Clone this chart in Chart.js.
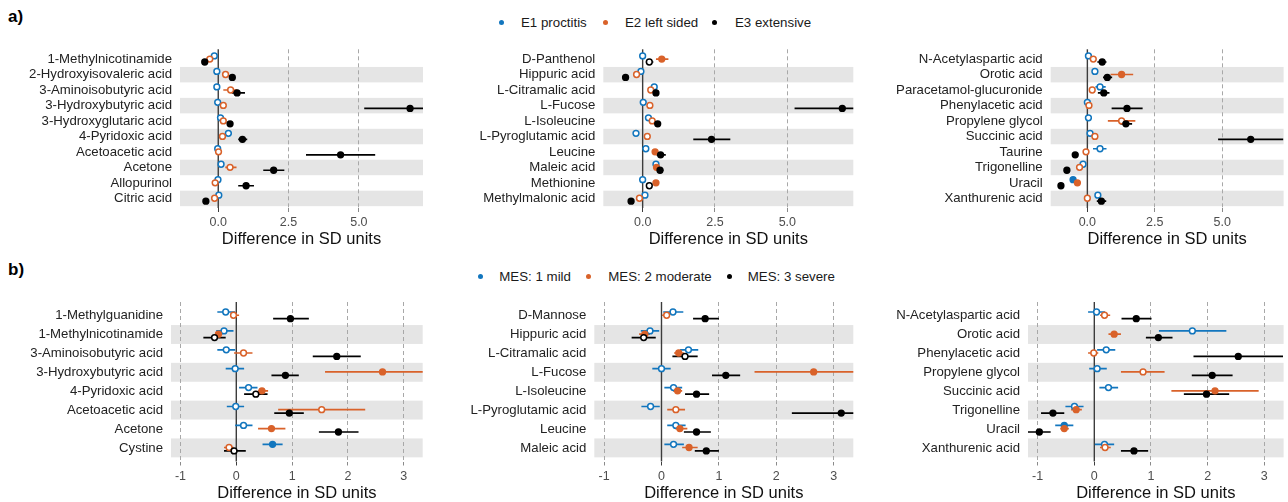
<!DOCTYPE html>
<html><head><meta charset="utf-8">
<script src="https://cdn.jsdelivr.net/npm/chart.js@4.4.1/dist/chart.umd.min.js"></script>
<style>
html,body{margin:0;padding:0;background:#fff;}
body{width:1288px;height:502px;position:relative;overflow:hidden;font-family:'Liberation Sans',Arial,Helvetica,sans-serif;}
canvas{position:absolute;}
.tag{position:absolute;font-weight:bold;font-size:17px;color:#000;line-height:20px;}
.leg{position:absolute;font-size:13.3px;color:#1a1a1a;line-height:16px;height:16px;white-space:nowrap;}
.dot{position:absolute;width:5px;height:5px;border-radius:50%;}
</style></head><body>
<div class="tag" style="left:8px;top:7px">a)</div>
<div class="tag" style="left:8px;top:260px">b)</div>
<canvas id="a1" width="430" height="210" style="left:0px;top:40px"></canvas>
<canvas id="a2" width="430" height="210" style="left:430px;top:40px"></canvas>
<canvas id="a3" width="430" height="210" style="left:858px;top:40px"></canvas>
<canvas id="b1" width="430" height="212" style="left:0px;top:290px"></canvas>
<canvas id="b2" width="430" height="212" style="left:430px;top:290px"></canvas>
<canvas id="b3" width="430" height="212" style="left:858px;top:290px"></canvas>
<script>
// ---------- DATA ----------
const legendA = ['E1 proctitis', 'E2 left sided', 'E3 extensive'];
const legendB = ['MES: 1 mild', 'MES: 2 moderate', 'MES: 3 severe'];
const xTicksA = [0, 2.5, 5.0];
const xTicksB = [-1, 0, 1, 2, 3];
const xTitle = 'Difference in SD units';

// each row: [estimate, lower, upper, significant(1 = filled)]
const a1Cats = ['1-Methylnicotinamide','2-Hydroxyisovaleric acid','3-Aminoisobutyric acid','3-Hydroxybutyric acid','3-Hydroxyglutaric acid','4-Pyridoxic acid','Acetoacetic acid','Acetone','Allopurinol','Citric acid'];
const a1E1 = [[-0.14,-0.24,-0.04,0],[-0.05,-0.15,0.05,0],[-0.05,-0.15,0.05,0],[-0.02,-0.12,0.08,0],[0.08,-0.02,0.18,0],[0.36,0.24,0.48,0],[-0.02,-0.12,0.08,0],[0.10,0.0,0.20,0],[-0.01,-0.11,0.09,0],[0.02,-0.08,0.12,0]];
const a1E2 = [[-0.30,-0.40,-0.20,0],[0.26,0.16,0.36,0],[0.44,0.18,0.68,0],[0.18,0.08,0.28,0],[0.18,0.08,0.28,0],[0.15,0.05,0.25,0],[0.01,-0.09,0.11,0],[0.42,0.25,0.65,0],[-0.11,-0.21,-0.01,0],[-0.13,-0.23,-0.03,0]];
const a1E3 = [[-0.48,-0.58,-0.38,1],[0.50,0.40,0.60,1],[0.67,0.48,0.95,1],[6.82,5.19,8.45,1],[0.42,0.32,0.52,1],[0.86,0.71,1.03,1],[4.35,3.12,5.58,1],[1.97,1.60,2.35,1],[0.99,0.71,1.27,1],[-0.44,-0.54,-0.34,1]];

const a2Cats = ['D-Panthenol','Hippuric acid','L-Citramalic acid','L-Fucose','L-Isoleucine','L-Pyroglutamic acid','Leucine','Maleic acid','Methionine','Methylmalonic acid'];
const a2E1 = [[0.00,-0.1,0.1,0],[-0.06,-0.16,0.04,0],[0.40,0.30,0.50,0],[0.02,-0.08,0.12,0],[0.20,0.10,0.30,0],[-0.23,-0.33,-0.13,0],[0.11,0.01,0.21,0],[0.46,0.36,0.56,0],[0.00,-0.1,0.1,0],[0.08,-0.02,0.18,0]];
const a2E2 = [[0.66,0.46,0.89,1],[-0.21,-0.31,-0.11,0],[0.28,0.18,0.38,0],[0.25,0.15,0.35,0],[0.33,0.23,0.43,0],[0.16,0.06,0.26,0],[0.43,0.33,0.53,1],[0.48,0.38,0.58,1],[0.46,0.36,0.56,1],[-0.11,-0.21,-0.01,0]];
const a2E3 = [[0.23,0.11,0.37,0],[-0.59,-0.69,-0.49,1],[0.46,0.36,0.56,1],[6.90,5.25,8.55,1],[0.52,0.42,0.62,1],[2.38,1.75,3.03,1],[0.62,0.48,0.80,1],[0.60,0.48,0.72,1],[0.23,0.13,0.33,0],[-0.40,-0.50,-0.30,1]];

const a3Cats = ['N-Acetylaspartic acid','Orotic acid','Paracetamol-glucuronide','Phenylacetic acid','Propylene glycol','Succinic acid','Taurine','Trigonelline','Uracil','Xanthurenic acid'];
const a3E1 = [[0.04,-0.06,0.14,0],[0.28,0.18,0.38,0],[0.47,0.30,0.68,0],[0.00,-0.1,0.1,0],[0.04,-0.06,0.14,0],[0.10,0.0,0.20,0],[0.47,0.21,0.71,0],[-0.16,-0.26,-0.06,0],[-0.53,-0.63,-0.43,1],[0.39,0.29,0.49,0]];
const a3E2 = [[0.22,0.12,0.32,0],[1.27,0.86,1.70,1],[0.18,0.08,0.28,0],[0.06,-0.04,0.16,0],[1.27,0.76,1.78,0],[0.28,0.18,0.38,0],[-0.05,-0.15,0.05,0],[-0.29,-0.39,-0.19,0],[-0.37,-0.47,-0.27,1],[0.00,-0.1,0.1,0]];
const a3E3 = [[0.55,0.37,0.71,1],[0.74,0.58,0.92,1],[0.61,0.39,0.82,1],[1.47,0.90,2.05,1],[1.43,1.23,1.66,1],[6.06,4.85,7.27,1],[-0.45,-0.55,-0.35,1],[-0.76,-0.86,-0.66,1],[-0.98,-1.08,-0.88,1],[0.52,0.35,0.70,1]];

const b1Cats = ['1-Methylguanidine','1-Methylnicotinamide','3-Aminoisobutyric acid','3-Hydroxybutyric acid','4-Pyridoxic acid','Acetoacetic acid','Acetone','Cystine'];
const b1M1 = [[-0.19,-0.34,-0.02,0],[-0.22,-0.36,-0.05,0],[-0.18,-0.34,-0.02,0],[-0.02,-0.19,0.14,0],[0.22,0.05,0.38,0],[-0.01,-0.17,0.14,0],[0.13,-0.02,0.29,0],[0.65,0.47,0.83,1]];
const b1M2 = [[-0.05,-0.11,0.05,0],[-0.32,-0.38,-0.25,1],[0.13,-0.04,0.29,0],[2.62,1.59,3.65,1],[0.46,0.39,0.57,1],[1.53,0.75,2.31,0],[0.63,0.39,0.88,1],[-0.13,-0.22,-0.05,0]];
const b1M3 = [[0.97,0.66,1.30,1],[-0.39,-0.59,-0.19,0],[1.80,1.37,2.23,1],[0.88,0.63,1.12,1],[0.35,0.14,0.56,0],[0.95,0.68,1.21,1],[1.83,1.48,2.19,1],[-0.04,-0.22,0.17,0]];

const b2Cats = ['D-Mannose','Hippuric acid','L-Citramalic acid','L-Fucose','L-Isoleucine','L-Pyroglutamic acid','Leucine','Maleic acid'];
const b2M1 = [[0.20,0.03,0.38,0],[-0.20,-0.36,-0.04,0],[0.47,0.32,0.64,0],[0.00,-0.16,0.16,0],[0.21,0.05,0.36,0],[-0.19,-0.35,-0.03,0],[0.25,0.10,0.42,0],[0.21,0.05,0.39,0]];
const b2M2 = [[0.09,0.01,0.14,0],[-0.29,-0.39,-0.20,1],[0.30,0.22,0.39,1],[2.65,1.62,3.68,1],[0.28,0.20,0.36,1],[0.25,0.10,0.41,0],[0.32,0.24,0.45,1],[0.48,0.36,0.63,1]];
const b2M3 = [[0.76,0.55,1.00,1],[-0.31,-0.52,-0.10,0],[0.41,0.19,0.63,0],[1.12,0.88,1.37,1],[0.61,0.41,0.83,1],[3.13,2.27,3.99,1],[0.61,0.39,0.86,1],[0.78,0.58,1.00,1]];

const b3Cats = ['N-Acetylaspartic acid','Orotic acid','Phenylacetic acid','Propylene glycol','Succinic acid','Trigonelline','Uracil','Xanthurenic acid'];
const b3M1 = [[0.04,-0.11,0.19,0],[1.73,1.14,2.33,0],[0.21,0.05,0.37,0],[0.05,-0.09,0.22,0],[0.25,0.09,0.42,0],[-0.35,-0.51,-0.19,0],[-0.53,-0.69,-0.37,1],[0.18,0.01,0.35,0]];
const b3M2 = [[0.18,0.10,0.28,0],[0.35,0.25,0.47,1],[-0.01,-0.11,0.07,0],[0.86,0.47,1.24,0],[2.13,1.36,2.90,1],[-0.32,-0.41,-0.22,1],[-0.53,-0.60,-0.45,1],[0.19,0.10,0.29,0]];
const b3M3 = [[0.74,0.48,1.01,1],[1.13,0.91,1.38,1],[2.54,1.75,3.33,1],[2.08,1.72,2.44,1],[1.98,1.58,2.38,1],[-0.73,-0.94,-0.53,1],[-0.97,-1.17,-0.77,1],[0.70,0.47,0.95,1]];

// ---------- STYLE / LAYOUT ----------
const COLORS = ['#1276BE', '#D9622A', '#000000'];
const FONT = "'Liberation Sans', Arial, Helvetica, sans-serif";
const ROWS = {
  a: {xmin: -1.36, xmax: 7.28, ticks: xTicksA, dec: 1, ymin: -0.64, yext: 0.62, pt: 9.3, xh: 42, tpb: 2.75, dodge: [-0.21, -0.01, 0.18]},
  b: {xmin: -1.17, xmax: 3.34, ticks: xTicksB, dec: 0, ymin: -0.72, yext: 0.72, pt: 12, xh: 40.5, tpb: 0.45, dodge: [-0.19, -0.02, 0.16]}
};
const PANELS = [
  {id: 'a1', cats: a1Cats, series: [a1E1, a1E2, a1E3], row: 'a', yw: 180, pr: 7},
  {id: 'a2', cats: a2Cats, series: [a2E1, a2E2, a2E3], row: 'a', yw: 173.3, pr: 6.7},
  {id: 'a3', cats: a3Cats, series: [a3E1, a3E2, a3E3], row: 'a', yw: 192.7, pr: 3.3},
  {id: 'b1', cats: b1Cats, series: [b1M1, b1M2, b1M3], row: 'b', yw: 171, pr: 7.3},
  {id: 'b2', cats: b2Cats, series: [b2M1, b2M2, b2M3], row: 'b', yw: 164.3, pr: 6.7},
  {id: 'b3', cats: b3Cats, series: [b3M1, b3M2, b3M3], row: 'b', yw: 170, pr: 3.3}
];

// ---------- LEGENDS (HTML text) ----------
function legend(names, dotX, textX, cy) {
  names.forEach((n, k) => {
    const d = document.createElement('div');
    d.className = 'dot';
    d.style.left = (dotX[k] - 2.5) + 'px'; d.style.top = (cy - 2.5) + 'px';
    d.style.background = COLORS[k];
    document.body.appendChild(d);
    const t = document.createElement('div');
    t.className = 'leg';
    t.style.left = textX[k] + 'px'; t.style.top = (cy - 8) + 'px';
    t.textContent = n;
    document.body.appendChild(t);
  });
}
legend(legendA, [501.7, 605.7, 714], [521, 625, 735], 22.7);
legend(legendB, [480, 588.3, 729], [499.3, 608.3, 747.7], 276.7);

// ---------- PLUGINS ----------
const bandsPlugin = {
  id: 'bands',
  beforeDraw(chart, args, opts) {
    const {ctx, chartArea: a, scales: {y}} = chart;
    ctx.save();
    ctx.fillStyle = '#e5e5e5';
    for (let i = 1; i < opts.n; i += 2) {
      const t = y.getPixelForValue(i - 0.5), b = y.getPixelForValue(i + 0.5);
      ctx.fillRect(a.left, t, a.right - a.left, b - t);
    }
    ctx.restore();
  },
  beforeDatasetsDraw(chart) {
    const {ctx, chartArea: a, scales: {x}} = chart;
    const px = x.getPixelForValue(0);
    ctx.save();
    ctx.strokeStyle = '#3c3c3c';
    ctx.lineWidth = 1.4;
    ctx.beginPath(); ctx.moveTo(px, a.top); ctx.lineTo(px, a.bottom); ctx.stroke();
    ctx.restore();
  }
};

// ---------- CHARTS ----------
PANELS.forEach(p => {
  const R = ROWS[p.row];
  const datasets = [];
  p.series.forEach((s, k) => {
    const off = R.dodge[k];
    const eb = [];
    s.forEach((r, i) => { eb.push({x: r[1], y: i + off}, {x: r[2], y: i + off}, {x: null, y: null}); });
    datasets.push({
      data: eb, showLine: true, spanGaps: false, borderColor: COLORS[k], borderWidth: 1.7,
      pointRadius: 0, pointHoverRadius: 0, order: 10 + k, borderCapStyle: 'butt'
    });
    datasets.push({
      data: s.map((r, i) => ({x: r[0], y: i + off})),
      showLine: false, pointRadius: 2.9, pointHoverRadius: 2.9, pointBorderWidth: 1.5,
      pointBorderColor: COLORS[k],
      pointBackgroundColor: s.map(r => r[3] ? COLORS[k] : '#ffffff'),
      order: 3 - k
    });
  });
  new Chart(document.getElementById(p.id), {
    type: 'scatter',
    data: {datasets},
    plugins: [bandsPlugin],
    options: {
      responsive: false, animation: false, devicePixelRatio: 1,
      layout: {padding: {left: 0, right: p.pr, top: R.pt, bottom: 0}},
      plugins: {legend: {display: false}, tooltip: {enabled: false}, bands: {n: p.cats.length}},
      scales: {
        x: {
          type: 'linear', min: R.xmin, max: R.xmax,
          afterBuildTicks: sc => { sc.ticks = R.ticks.map(v => ({value: v})); },
          afterFit: sc => { sc.height = R.xh; sc.paddingLeft = 0; sc.paddingRight = 0; sc.paddingTop = 0; sc.paddingBottom = 0; },
          ticks: {
            callback: v => R.dec ? Number(v).toFixed(R.dec) : String(v),
            font: {family: FONT, size: 12.5}, color: '#4d4d4d', padding: 3.5,
            maxRotation: 0, autoSkip: false
          },
          grid: {
            color: c => (c.tick && c.tick.value === 0) ? 'rgba(0,0,0,0)' : '#a8a8a8',
            lineWidth: 1, drawTicks: true, tickLength: 4,
            tickColor: c => (c.tick && c.tick.value === 0) ? '#3c3c3c' : '#8a8a8a',
            borderDash: [4, 3]
          },
          border: {display: false, dash: [4, 3]},
          title: {
            display: true, text: xTitle, color: '#111',
            font: {family: FONT, size: 16.5, lineHeight: 1},
            padding: {top: 0, bottom: R.tpb}
          }
        },
        y: {
          type: 'linear', reverse: true, min: R.ymin, max: p.cats.length - 1 + R.yext,
          afterBuildTicks: sc => { sc.ticks = p.cats.map((c, i) => ({value: i})); },
          afterFit: sc => { sc.width = p.yw; sc.paddingTop = 0; sc.paddingBottom = 0; sc.paddingLeft = 0; sc.paddingRight = 0; },
          ticks: {
            callback: v => p.cats[v], autoSkip: false,
            font: {family: FONT, size: 13.2}, color: '#222', padding: 8
          },
          grid: {display: false, drawTicks: false},
          border: {display: false}
        }
      }
    }
  });
});
</script>
</body></html>
